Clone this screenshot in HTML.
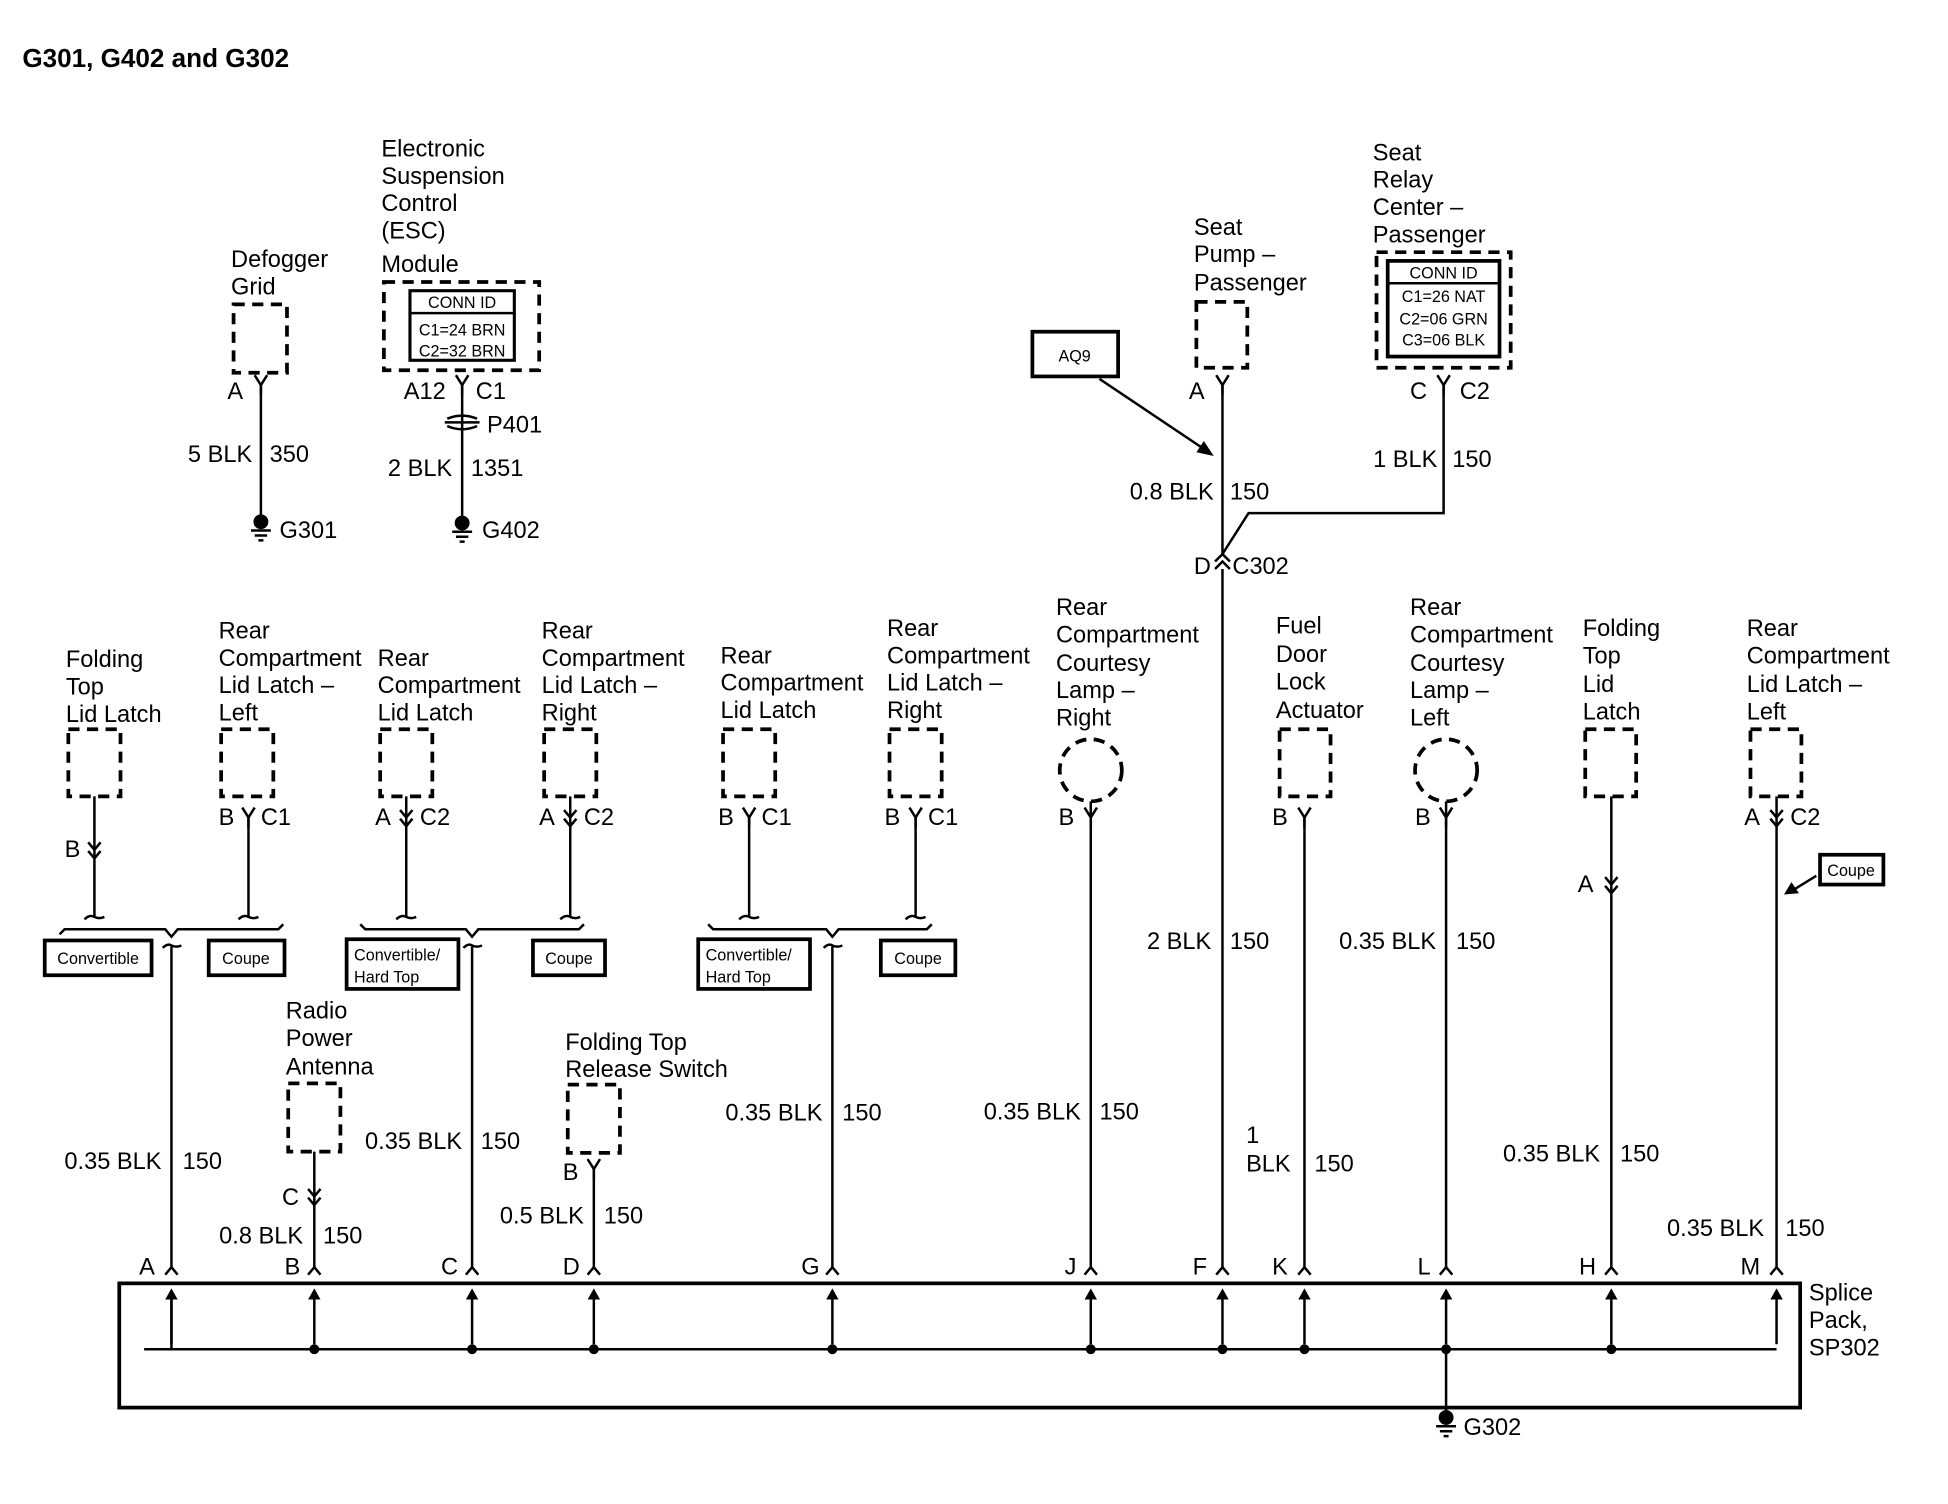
<!DOCTYPE html>
<html><head><meta charset="utf-8"><style>
html,body{margin:0;padding:0;background:#fff}
svg{display:block}
text{font-family:"Liberation Sans",Arial,sans-serif;font-size:19px;fill:#000}
.s{font-size:13px}
.b{font-weight:bold;font-size:21px}
.w{stroke:#000;stroke-width:2;fill:none}
.d{stroke:#000;stroke-width:3;fill:none;stroke-dasharray:9 6}
.bx{stroke:#000;stroke-width:3;fill:#fff}
</style></head><body>
<svg width="1948" height="1504" viewBox="0 0 1568 1210.6" preserveAspectRatio="none" xmlns="http://www.w3.org/2000/svg">
<defs>
<g id="y"><path class="w" d="M-5,-8 L0,0 L5,-8 M0,0 V8"/></g>
<g id="dc"><path class="w" d="M-5,-10 L0,-4 L5,-10 M-5,-3 L0,3 L5,-3"/></g>
<g id="up"><path class="w" d="M-5,6 L0,0 L5,6"/></g>
<g id="gnd"><circle r="6" fill="#000"/><path class="w" d="M-8,7 H8 M-5,11 H5 M-2,15 H2" stroke-width="1.5"/></g>
<g id="arr"><path class="w" d="M0,44 V4"/><path d="M-5,8 L0,-1 L5,8 Z" fill="#000"/></g>
</defs>

<text x="18" y="54" class="b">G301, G402 and G302</text>

<text x="186" y="215">Defogger</text><text x="186" y="237">Grid</text>
<rect x="188" y="245" width="43" height="55" class="d"/>
<use href="#y" x="210" y="310"/><text x="183" y="321">A</text>
<line class="w" x1="210" y1="310" x2="210" y2="418"/>
<text x="203" y="372" text-anchor="end">5 BLK</text><text x="217" y="372">350</text>
<use href="#gnd" x="210" y="420"/><text x="225" y="433">G301</text>

<text x="307" y="126">Electronic</text><text x="307" y="148">Suspension</text><text x="307" y="170">Control</text><text x="307" y="192">(ESC)</text><text x="307" y="219">Module</text>
<rect x="309" y="227" width="125" height="71" class="d"/>
<rect x="330" y="234" width="84" height="56" fill="none" stroke="#000" stroke-width="2.5"/>
<line x1="330" y1="252" x2="414" y2="252" stroke="#000" stroke-width="2"/>
<text x="372" y="248" class="s" text-anchor="middle">CONN ID</text>
<text x="372" y="270" class="s" text-anchor="middle">C1=24 BRN</text>
<text x="372" y="287" class="s" text-anchor="middle">C2=32 BRN</text>
<use href="#y" x="372" y="310"/><text x="325" y="321">A12</text><text x="383" y="321">C1</text>
<line class="w" x1="372" y1="310" x2="372" y2="418"/>
<path class="w" d="M360,337 Q372,332 384,337 M360,343 Q372,348 384,343 M358,340 H386"/>
<text x="392" y="348">P401</text>
<text x="364" y="383" text-anchor="end">2 BLK</text><text x="379" y="383">1351</text>
<use href="#gnd" x="372" y="421"/><text x="388" y="433">G402</text>

<rect x="831" y="267" width="69" height="36" class="bx" stroke-width="2.5"/>
<text x="865" y="291" class="s" text-anchor="middle">AQ9</text>
<line class="w" x1="885" y1="305" x2="970" y2="362"/>
<path d="M977,367 L963,364 L969,355 Z" fill="#000"/>

<text x="961" y="189">Seat</text><text x="961" y="211">Pump –</text><text x="961" y="234">Passenger</text>
<rect x="963" y="243" width="41" height="53" class="d"/>
<use href="#y" x="984" y="310"/><text x="957" y="321">A</text>
<line class="w" x1="984" y1="310" x2="984" y2="446"/>
<text x="977" y="402" text-anchor="end">0.8 BLK</text><text x="990" y="402">150</text>

<text x="1105" y="129">Seat</text><text x="1105" y="151">Relay</text><text x="1105" y="173">Center –</text><text x="1105" y="195">Passenger</text>
<rect x="1108" y="203" width="108" height="93" class="d"/>
<rect x="1117" y="210" width="90" height="77" fill="none" stroke="#000" stroke-width="3"/>
<line x1="1117" y1="228" x2="1207" y2="228" stroke="#000" stroke-width="2"/>
<text x="1162" y="224" class="s" text-anchor="middle">CONN ID</text>
<text x="1162" y="243" class="s" text-anchor="middle">C1=26 NAT</text>
<text x="1162" y="261" class="s" text-anchor="middle">C2=06 GRN</text>
<text x="1162" y="278" class="s" text-anchor="middle">C3=06 BLK</text>
<use href="#y" x="1162" y="310"/><text x="1135" y="321">C</text><text x="1175" y="321">C2</text>
<path class="w" d="M1162,310 V413 H1005 L984,446"/>
<text x="1157" y="376" text-anchor="end">1 BLK</text><text x="1169" y="376">150</text>
<path class="w" d="M978,452 L984,446 L990,452 M978,458 L984,452 L990,458"/>
<text x="961" y="462">D</text><text x="992" y="462">C302</text>
<line class="w" x1="984" y1="458" x2="984" y2="1020"/>
<text x="975" y="764" text-anchor="end">2 BLK</text><text x="990" y="764">150</text>

<text x="53" y="537">Folding</text><text x="53" y="559">Top</text><text x="53" y="581">Lid Latch</text>
<rect x="55" y="587" width="42" height="54" class="d"/>
<line class="w" x1="76" y1="641" x2="76" y2="738"/>
<use href="#dc" x="76" y="688"/><text x="52" y="690">B</text>
<text x="176" y="514">Rear</text><text x="176" y="536">Compartment</text><text x="176" y="558">Lid Latch –</text><text x="176" y="580">Left</text>
<rect x="178" y="587" width="42" height="54" class="d"/>
<use href="#y" x="200" y="658"/><text x="176" y="664">B</text><text x="210" y="664">C1</text>
<line class="w" x1="200" y1="658" x2="200" y2="738"/>
<path class="w" d="M68,740 q4,-4 8,-2 q4,2 8,0 M192,740 q4,-4 8,-2 q4,2 8,0"/>
<path class="w" d="M48,752 L52,748 H133 L138,754 L143,748 H224 L228,744"/>
<path class="w" d="M131,763 q4,-4 7,-2 q4,2 8,0 M138,762 V1020"/>
<rect x="36" y="757" width="86" height="28" class="bx"/><text x="79" y="776" class="s" text-anchor="middle">Convertible</text>
<rect x="168" y="757" width="61" height="28" class="bx"/><text x="198" y="776" class="s" text-anchor="middle">Coupe</text>
<text x="130" y="941" text-anchor="end">0.35 BLK</text><text x="147" y="941">150</text>

<text x="304" y="536">Rear</text><text x="304" y="558">Compartment</text><text x="304" y="580">Lid Latch</text>
<rect x="306" y="587" width="42" height="54" class="d"/>
<line class="w" x1="327" y1="641" x2="327" y2="738"/>
<use href="#dc" x="327" y="662"/><text x="302" y="664">A</text><text x="338" y="664">C2</text>
<text x="436" y="514">Rear</text><text x="436" y="536">Compartment</text><text x="436" y="558">Lid Latch –</text><text x="436" y="580">Right</text>
<rect x="438" y="587" width="42" height="54" class="d"/>
<line class="w" x1="459" y1="641" x2="459" y2="738"/>
<use href="#dc" x="459" y="662"/><text x="434" y="664">A</text><text x="470" y="664">C2</text>
<path class="w" d="M319,740 q4,-4 8,-2 q4,2 8,0 M451,740 q4,-4 8,-2 q4,2 8,0"/>
<path class="w" d="M290,744 L294,748 H375 L380,754 L385,748 H466 L470,744"/>
<path class="w" d="M373,763 q4,-4 7,-2 q4,2 8,0 M380,762 V1020"/>
<rect x="279" y="756" width="90" height="40" class="bx"/><text x="285" y="773" class="s">Convertible/</text><text x="285" y="791" class="s">Hard Top</text>
<rect x="429" y="757" width="58" height="28" class="bx"/><text x="458" y="776" class="s" text-anchor="middle">Coupe</text>
<text x="372" y="925" text-anchor="end">0.35 BLK</text><text x="387" y="925">150</text>

<text x="580" y="534">Rear</text><text x="580" y="556">Compartment</text><text x="580" y="578">Lid Latch</text>
<rect x="582" y="587" width="42" height="54" class="d"/>
<use href="#y" x="603" y="658"/><text x="578" y="664">B</text><text x="613" y="664">C1</text>
<line class="w" x1="603" y1="658" x2="603" y2="738"/>
<text x="714" y="512">Rear</text><text x="714" y="534">Compartment</text><text x="714" y="556">Lid Latch –</text><text x="714" y="578">Right</text>
<rect x="716" y="587" width="42" height="54" class="d"/>
<use href="#y" x="737" y="658"/><text x="712" y="664">B</text><text x="747" y="664">C1</text>
<line class="w" x1="737" y1="658" x2="737" y2="738"/>
<path class="w" d="M595,740 q4,-4 8,-2 q4,2 8,0 M729,740 q4,-4 8,-2 q4,2 8,0"/>
<path class="w" d="M570,744 L574,748 H665 L670,754 L675,748 H746 L750,744"/>
<path class="w" d="M663,763 q4,-4 7,-2 q4,2 8,0 M670,762 V1020"/>
<rect x="562" y="756" width="90" height="40" class="bx"/><text x="568" y="773" class="s">Convertible/</text><text x="568" y="791" class="s">Hard Top</text>
<rect x="709" y="757" width="60" height="28" class="bx"/><text x="739" y="776" class="s" text-anchor="middle">Coupe</text>
<text x="662" y="902" text-anchor="end">0.35 BLK</text><text x="678" y="902">150</text>

<text x="850" y="495">Rear</text><text x="850" y="517">Compartment</text><text x="850" y="540">Courtesy</text><text x="850" y="562">Lamp –</text><text x="850" y="584">Right</text>
<circle cx="878" cy="620" r="25" class="d" stroke-dasharray="10 6"/>
<use href="#y" x="878" y="658"/><text x="852" y="664">B</text>
<line class="w" x1="878" y1="645" x2="878" y2="1020"/>
<text x="870" y="901" text-anchor="end">0.35 BLK</text><text x="885" y="901">150</text>

<text x="1027" y="510">Fuel</text><text x="1027" y="533">Door</text><text x="1027" y="555">Lock</text><text x="1027" y="578">Actuator</text>
<rect x="1030" y="587" width="41" height="54" class="d"/>
<use href="#y" x="1050" y="658"/><text x="1024" y="664">B</text>
<line class="w" x1="1050" y1="658" x2="1050" y2="1020"/>
<text x="1003" y="920">1</text><text x="1003" y="943">BLK</text><text x="1058" y="943">150</text>

<text x="1135" y="495">Rear</text><text x="1135" y="517">Compartment</text><text x="1135" y="540">Courtesy</text><text x="1135" y="562">Lamp –</text><text x="1135" y="584">Left</text>
<circle cx="1164" cy="620" r="25" class="d" stroke-dasharray="10 6"/>
<use href="#y" x="1164" y="658"/><text x="1139" y="664">B</text>
<line class="w" x1="1164" y1="645" x2="1164" y2="1020"/>
<text x="1156" y="764" text-anchor="end">0.35 BLK</text><text x="1172" y="764">150</text>

<text x="1274" y="512">Folding</text><text x="1274" y="534">Top</text><text x="1274" y="557">Lid</text><text x="1274" y="579">Latch</text>
<rect x="1276" y="587" width="41" height="54" class="d"/>
<line class="w" x1="1297" y1="641" x2="1297" y2="1020"/>
<use href="#dc" x="1297" y="716"/><text x="1270" y="718">A</text>
<text x="1288" y="935" text-anchor="end">0.35 BLK</text><text x="1304" y="935">150</text>

<text x="1406" y="512">Rear</text><text x="1406" y="534">Compartment</text><text x="1406" y="557">Lid Latch –</text><text x="1406" y="579">Left</text>
<rect x="1409" y="587" width="41" height="54" class="d"/>
<line class="w" x1="1430" y1="641" x2="1430" y2="1020"/>
<use href="#dc" x="1430" y="662"/><text x="1404" y="664">A</text><text x="1441" y="664">C2</text>
<rect x="1465" y="688" width="51" height="24" class="bx" stroke-width="2.5"/><text x="1490" y="705" class="s" text-anchor="middle">Coupe</text>
<line class="w" x1="1462" y1="705" x2="1444" y2="716"/>
<path d="M1436,720 L1442,710 L1448,719 Z" fill="#000"/>
<text x="1420" y="995" text-anchor="end">0.35 BLK</text><text x="1437" y="995">150</text>

<text x="230" y="820">Radio</text><text x="230" y="842">Power</text><text x="230" y="865">Antenna</text>
<rect x="232" y="872" width="42" height="55" class="d"/>
<line class="w" x1="253" y1="927" x2="253" y2="1020"/>
<use href="#dc" x="253" y="967"/><text x="227" y="970">C</text>
<text x="244" y="1001" text-anchor="end">0.8 BLK</text><text x="260" y="1001">150</text>

<text x="455" y="845">Folding Top</text><text x="455" y="867">Release Switch</text>
<rect x="457" y="873" width="42" height="55" class="d"/>
<use href="#y" x="478" y="941"/><text x="453" y="950">B</text>
<line class="w" x1="478" y1="941" x2="478" y2="1020"/>
<text x="470" y="985" text-anchor="end">0.5 BLK</text><text x="486" y="985">150</text>

<rect x="96" y="1033" width="1353" height="100" fill="none" stroke="#000" stroke-width="3"/>
<path class="w" d="M116,1086 H1430 M138,1086 V1046"/>
<g>
<use href="#up" x="138" y="1020"/><use href="#up" x="253" y="1020"/><use href="#up" x="380" y="1020"/><use href="#up" x="478" y="1020"/><use href="#up" x="670" y="1020"/><use href="#up" x="878" y="1020"/><use href="#up" x="984" y="1020"/><use href="#up" x="1050" y="1020"/><use href="#up" x="1164" y="1020"/><use href="#up" x="1297" y="1020"/><use href="#up" x="1430" y="1020"/>
</g>
<g>
<use href="#arr" x="138" y="1038"/><use href="#arr" x="253" y="1038"/><use href="#arr" x="380" y="1038"/><use href="#arr" x="478" y="1038"/><use href="#arr" x="670" y="1038"/><use href="#arr" x="878" y="1038"/><use href="#arr" x="984" y="1038"/><use href="#arr" x="1050" y="1038"/><use href="#arr" x="1164" y="1038"/><use href="#arr" x="1297" y="1038"/><use href="#arr" x="1430" y="1038"/>
</g>
<g fill="#000">
<circle cx="253" cy="1086" r="4"/><circle cx="380" cy="1086" r="4"/><circle cx="478" cy="1086" r="4"/><circle cx="670" cy="1086" r="4"/><circle cx="878" cy="1086" r="4"/><circle cx="984" cy="1086" r="4"/><circle cx="1050" cy="1086" r="4"/><circle cx="1164" cy="1086" r="4"/><circle cx="1297" cy="1086" r="4"/>
</g>
<line class="w" x1="1164" y1="1086" x2="1164" y2="1140"/>
<use href="#gnd" x="1164" y="1141"/><text x="1178" y="1155">G302</text>
<text x="112" y="1026">A</text><text x="229" y="1026">B</text><text x="355" y="1026">C</text><text x="453" y="1026">D</text><text x="645" y="1026">G</text><text x="857" y="1026">J</text><text x="960" y="1026">F</text><text x="1024" y="1026">K</text><text x="1141" y="1026">L</text><text x="1271" y="1026">H</text><text x="1401" y="1026">M</text>
<text x="1456" y="1047">Splice</text><text x="1456" y="1069">Pack,</text><text x="1456" y="1091">SP302</text>
</svg>
</body></html>
